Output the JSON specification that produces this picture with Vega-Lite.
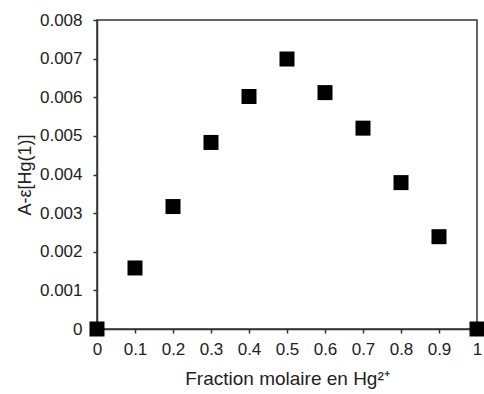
{
  "$schema": "https://vega.github.io/schema/vega-lite/v6.json",
  "autosize": {"type": "none"},
  "padding": {"left": 97, "top": 20, "right": 7, "bottom": 65},
  "width": 380,
  "height": 309,
  "background": "white",
  "config": {
    "view": {"stroke": "#333333", "strokeWidth": 1.5},
    "font": "Liberation Sans",
    "axis": {"grid": false, "domainColor": "#333333", "domainWidth": 1.5, "tickColor": "#333333", "tickWidth": 1.5, "tickSize": 4, "labelColor": "#222222", "titleColor": "#222222", "labelFontSize": 17, "labelFont": "Liberation Sans", "titleFont": "Liberation Sans", "titleFontWeight": "normal"}
  },
  "data": {
    "values": [
      {"x": 0, "y": 0},
      {"x": 0.1, "y": 0.00158},
      {"x": 0.2, "y": 0.00317},
      {"x": 0.3, "y": 0.00483},
      {"x": 0.4, "y": 0.00602},
      {"x": 0.5, "y": 0.00699},
      {"x": 0.6, "y": 0.00612},
      {"x": 0.7, "y": 0.0052},
      {"x": 0.8, "y": 0.00379},
      {"x": 0.9, "y": 0.00239},
      {"x": 1, "y": 0}
    ]
  },
  "mark": {"type": "point", "shape": "square", "filled": true, "color": "#000000", "size": 225, "opacity": 1, "clip": false},
  "encoding": {
    "x": {
      "field": "x", "type": "quantitative",
      "scale": {"domain": [0, 1], "nice": false, "zero": false},
      "axis": {"values": [0, 0.1, 0.2, 0.3, 0.4, 0.5, 0.6, 0.7, 0.8, 0.9, 1], "format": "~g", "labelPadding": 8, "title": "Fraction molaire en Hg²⁺", "titleFontSize": 19, "titlePadding": 12, "labelFlush": false}
    },
    "y": {
      "field": "y", "type": "quantitative",
      "scale": {"domain": [0, 0.008], "nice": false},
      "axis": {"values": [0, 0.001, 0.002, 0.003, 0.004, 0.005, 0.006, 0.007, 0.008], "format": "~g", "labelPadding": 11, "title": "A-ε[Hg(1)]", "titleFontSize": 18, "titlePadding": 5, "labelFlush": false}
    }
  }
}
